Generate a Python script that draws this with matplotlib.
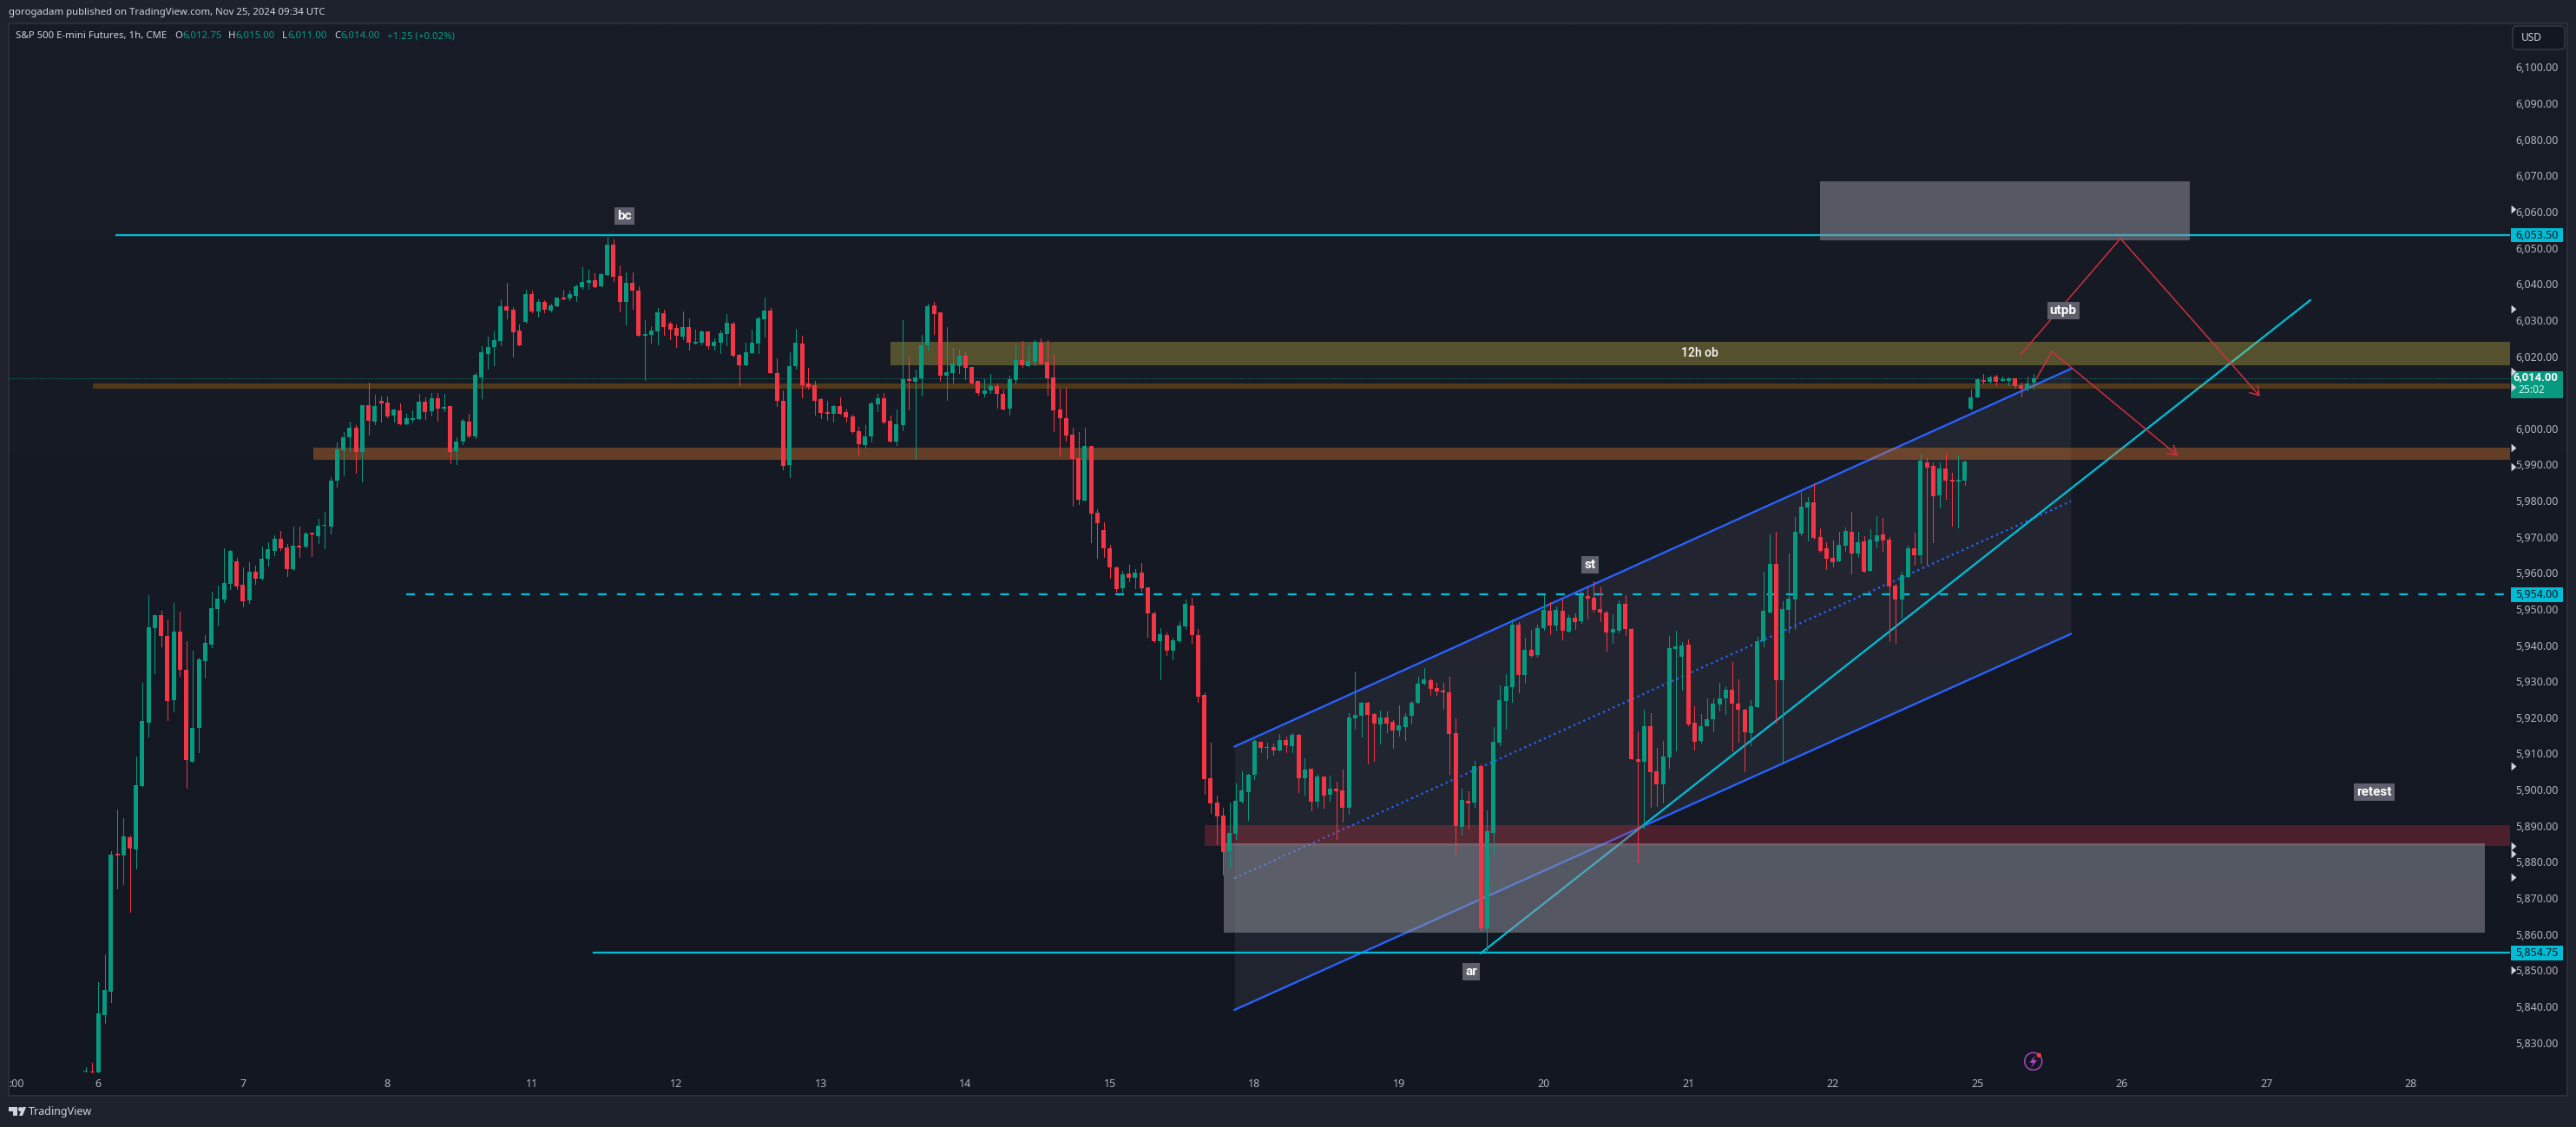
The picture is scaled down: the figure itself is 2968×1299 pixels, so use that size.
import numpy as np
import matplotlib
matplotlib.use("Agg")
import matplotlib.pyplot as plt
from matplotlib.patches import Rectangle, Circle, Polygon, FancyBboxPatch

plt.rcParams['font.family'] = ['Noto Sans', 'DejaVu Sans']

W, H = 2968, 1299

# 1h candles, first one sits two bars before the "6" label
opens = [
    5822, 5822, 5821.75, 5837.6, 5844, 5882.25, 5881.75, 5886.8, 5883.45, 5901,
    5918.5, 5944.7, 5948.3, 5942.55, 5924.75, 5943.75, 5933.2, 5907.7, 5917.1, 5935.5,
    5940.1, 5950, 5952.65, 5956.95, 5963.2, 5956.7, 5952.4, 5960.3, 5958.4, 5963.9,
    5966.1, 5969.45, 5967, 5961, 5967.5, 5967.3, 5971.1, 5970.15, 5973, 5972.8,
    5985.55, 5993.95, 5997.55, 6000.2, 5993.5, 6006.4, 6001.9, 6007.6, 6007.15, 6003.55,
    6005, 6001.15, 6002.35, 6002.6, 6007.4, 6004.75, 6008.35, 6005.5, 6006.2, 5993.7,
    5996.35, 6001.9, 5997.8, 6014.1, 6020.6, 6022.55, 6024.2, 6033.8, 6032.85, 6027.1,
    6029.5, 6037.2, 6032.4, 6035, 6032.6, 6033.8, 6036.2, 6036, 6036.7, 6039.1,
    6040.3, 6041, 6039.35, 6042.45, 6050.9, 6042.25, 6035, 6040.3, 6038.15, 6025.66,
    6025.9, 6026.85, 6031.9, 6029.05, 6027.8, 6025.4, 6028.05, 6023.6, 6023.7, 6026.85,
    6022.8, 6023.7, 6026.1, 6029.05, 6020.3, 6017.5, 6020.9, 6023.45, 6030.25, 6032.65,
    6015.35, 6007.65, 5989.9, 6017.3, 6023.45, 6012.45, 6011.95, 6008.1, 6004.5, 6004.05,
    6006.15, 6004.5, 6003.3, 5999.3, 5995.3, 5997.8, 6006.65, 6008.4, 6002.1, 5996.35,
    6000.95, 6013.6, 6012.9, 6013.8, 6023, 6034, 6032.2, 6014.65, 6015.35, 6017.3,
    6020.15, 6017, 6013.15, 6009.6, 6010.5, 6011.7, 6009.6, 6005.45, 6013.45, 6018.95,
    6017.3, 6018.5, 6023.7, 6018.5, 6014.05, 6005.25, 6002.85, 5998.25, 5991.75, 5980,
    5995.15, 5976.55, 5971.9, 5966.85, 5961.5, 5955.7, 5959.85, 5958.65, 5960.1, 5956,
    5948.8, 5941.1, 5942.75, 5938.4, 5941.1, 5945.15, 5950.95, 5942.75, 5926.2, 5903.15,
    5896.45, 5892.85, 5883, 5887.75, 5896.7, 5899.3, 5904.1, 5913.25, 5911.55, 5911.8,
    5910.85, 5913.7, 5912.05, 5915.15, 5903.15, 5905.8, 5896.7, 5903.6, 5898.6, 5900.3,
    5899.8, 5895, 5919.75, 5920.45, 5924.05, 5920.95, 5918.05, 5920, 5918.75, 5916.35,
    5917.3, 5920.45, 5924.05, 5929.35, 5930.3, 5928.15, 5927.4, 5926.95, 5915.65, 5889.7,
    5896.9, 5896.45, 5906.5, 5861.6, 5888, 5913, 5924.55, 5928.4, 5945.65, 5931.75,
    5938.7, 5937.25, 5944.7, 5949.5, 5945.45, 5949.5, 5943.75, 5947.6, 5946.6, 5953.6,
    5953.1, 5950, 5949, 5943.5, 5944, 5951.45, 5944.45, 5908.45, 5907.7, 5917.55,
    5905.05, 5901.45, 5908.9, 5939, 5936.8, 5940.15, 5918.5, 5913.5, 5917.55, 5919.5,
    5923.6, 5925.25, 5927.65, 5923.8, 5922.1, 5915.65, 5922.85, 5941.1, 5949, 5962.5,
    5930.3, 5949.75, 5952.65, 5970.9, 5978.1, 5979.55, 5969.95, 5966.8, 5964.15, 5963.2,
    5967.5, 5971.35, 5965.35, 5968.75, 5960.55, 5968.75, 5970.65, 5969.2, 5956.5, 5952.65,
    5958.85, 5966.8, 5964.9, 5990.6, 5989.6, 5981.45, 5988.9, 5985.8, 5985.3, 5985.55,
    6005.5, 6008.6, 6013.4, 6012.9, 6014.35, 6013.15, 6013.15, 6013.9, 6011.95, 6011, 6012.75,
]
highs = [
    5823.2, 5824.4, 5846.7, 5854.4, 5883, 5894.5, 5892.1, 5887.3, 5909.15, 5929.55,
    5953.85, 5948.3, 5949.5, 5947.1, 5951.65, 5949.25, 5941.1, 5938.5, 5936.5, 5942.8,
    5954.8, 5956.5, 5966.8, 5966.3, 5964.1, 5961.5, 5962.9, 5962, 5967.3, 5968.5,
    5970.4, 5971.6, 5968, 5972.8, 5972.8, 5971.3, 5971.1, 5974.95, 5976.9, 5986.5,
    5996.1, 5999, 6001.85, 6000.9, 6006.4, 6012.7, 6009.3, 6008.8, 6008.8, 6005.25,
    6006.9, 6004, 6005, 6009.55, 6008.6, 6009.8, 6009.8, 6009.55, 6006.2, 5997.55,
    6002.6, 6004, 6015.3, 6022.8, 6025.4, 6026.85, 6035.75, 6040.3, 6033.55, 6028.8,
    6038.4, 6038.15, 6035.75, 6035.5, 6034.55, 6036.2, 6038.4, 6038.15, 6039.85, 6044.65,
    6043.9, 6042.95, 6042.95, 6053.05, 6052.3, 6045.1, 6043.2, 6043.2, 6039.35, 6030,
    6028.2, 6033.3, 6032.85, 6029.6, 6028.8, 6032.4, 6030.45, 6027.3, 6027.1, 6026.85,
    6025, 6027.1, 6031.6, 6029.5, 6020.7, 6023.7, 6027.3, 6030.9, 6036.2, 6033.4,
    6019.4, 6010.5, 6021.05, 6027.6, 6025.65, 6016.75, 6013.15, 6008.4, 6007.55, 6006.45,
    6008.55, 6005.25, 6003.8, 6000.5, 6000.9, 6007.35, 6009.6, 6009.75, 6003.6, 6005.25,
    6030, 6019.95, 6016.3, 6025.95, 6034.5, 6035, 6032.2, 6028, 6022.25, 6021.8,
    6021.05, 6017, 6013.15, 6013.6, 6015.1, 6012.45, 6010.75, 6014.65, 6023, 6024.2,
    6023, 6024.5, 6024.9, 6024.45, 6020.3, 6011.05, 6011.15, 6000.2, 5999, 6000.2,
    5995.15, 5977.6, 5974, 5967.75, 5961.8, 5960.6, 5962.25, 5961.05, 5962.7, 5956,
    5949.35, 5944.65, 5943.5, 5942.1, 5946.6, 5952.7, 5953.15, 5944.5, 5926.95, 5913,
    5898.35, 5895, 5896.45, 5901.7, 5905.1, 5904.35, 5914, 5913.25, 5913, 5912.75,
    5915.4, 5914.7, 5915.65, 5915.4, 5908.7, 5905.8, 5904.35, 5903.6, 5903.85, 5902.2,
    5905.55, 5921.2, 5932.7, 5924.35, 5924.3, 5921.2, 5922, 5921.65, 5919.25, 5923.3,
    5921.2, 5924.5, 5931.25, 5933.65, 5930.8, 5929.55, 5929.55, 5931.25, 5919.75, 5900.3,
    5899.6, 5908, 5907, 5894.3, 5917.3, 5928.85, 5932, 5947.1, 5946.4, 5942.05,
    5944.25, 5945.65, 5953.85, 5951.9, 5950.7, 5952.6, 5948.3, 5948.8, 5954.8, 5956,
    5957.7, 5956.25, 5949.5, 5948.55, 5952.4, 5953.85, 5944.7, 5916.1, 5922.1, 5921.2,
    5911.55, 5913.5, 5942.55, 5944, 5940.85, 5941.6, 5923.1, 5920.9, 5925.25, 5925.25,
    5929.55, 5928.6, 5935.35, 5930.45, 5922.35, 5924.8, 5942.3, 5960.3, 5970.65, 5971.35,
    5952.15, 5965.35, 5975.45, 5982.5, 5981, 5984.8, 5972.3, 5968.5, 5969, 5971.35,
    5972.55, 5976.9, 5971.35, 5970.15, 5972.1, 5975.7, 5975.2, 5969.9, 5957, 5960.3,
    5967.5, 5971.1, 5993, 5991.8, 5990.6, 5990.6, 5993.2, 5987.7, 5992.5, 5991.05,
    6010.75, 6013.65, 6015.1, 6014.6, 6014.85, 6014.35, 6014.1, 6013.9, 6012.7, 6014.35, 6015,
]
lows = [
    5822, 5821.75, 5821.75, 5835.4, 5841.2, 5872.65, 5873.85, 5866.15, 5878.15, 5901,
    5914.7, 5932.2, 5939.65, 5919.25, 5921.65, 5931.5, 5900.5, 5907.7, 5910.35, 5931,
    5939.4, 5945.4, 5951.9, 5955.5, 5955.5, 5950.7, 5951.65, 5956.95, 5958.1, 5962,
    5964.9, 5966.3, 5959.1, 5960.8, 5964.4, 5967, 5964.65, 5968.25, 5966.8, 5970.9,
    5983.85, 5987, 5993.7, 5987.7, 5985.3, 5998.2, 6001.1, 6001.9, 6003.1, 6001.9,
    6001.15, 6001.15, 6001.9, 6002.6, 6002.6, 6003.55, 6002.1, 6004.75, 5990.35, 5990.1,
    5995.6, 5997.55, 5997.3, 6008.35, 6016.5, 6017.5, 6023, 6030.45, 6019.9, 6023,
    6029.3, 6032.15, 6030.95, 6032.15, 6032.4, 6033.8, 6035.75, 6035.5, 6035.25, 6038.65,
    6038.65, 6039.1, 6039.35, 6042.45, 6040.8, 6032.4, 6028.8, 6033.1, 6025.65, 6013.5,
    6023.8, 6023.3, 6025.9, 6024.75, 6022.6, 6024.75, 6021.8, 6023.45, 6023.15, 6022.05,
    6021.8, 6020.9, 6023, 6019.85, 6011.95, 6017.5, 6020.9, 6020.9, 6025.4, 6015.35,
    6006.2, 5988.7, 5986.6, 6016.45, 6008.65, 6011.05, 6003.8, 6002.85, 6002.4, 6001.85,
    6004.05, 6001.85, 5998.7, 5992.75, 5994.7, 5996.35, 6004.8, 6001.4, 5996.35, 5995.4,
    5999.55, 6005.25, 5991.65, 6009.1, 6021.8, 6026.1, 6013.15, 6007.9, 6012.7, 6015.35,
    6013.6, 6012.45, 6009.3, 6008.85, 6009.75, 6005.7, 6005.25, 6003.8, 6012.45, 6017,
    6017.3, 6017.5, 6017.65, 6009.3, 5999.3, 5992.6, 5996.6, 5978.6, 5979.05, 5980,
    5968.5, 5964.2, 5964.45, 5958.65, 5954.8, 5954.5, 5957.65, 5955.7, 5955, 5942.3,
    5940.85, 5930.6, 5937.2, 5936.05, 5940.85, 5944.5, 5940.65, 5924.3, 5898.85, 5893.55,
    5884.8, 5876.5, 5878.4, 5886.35, 5896.45, 5891.65, 5902.9, 5910.35, 5908.7, 5909.65,
    5910.85, 5910.35, 5910.35, 5899.3, 5898.6, 5894.3, 5895.2, 5895, 5896.9, 5886.35,
    5891.15, 5893.3, 5916.85, 5914.7, 5907.25, 5907.95, 5912.75, 5915.9, 5911.55, 5914.95,
    5913.7, 5918.3, 5924.05, 5929.1, 5926.2, 5926.2, 5922.6, 5904.35, 5881.8, 5887.55,
    5889.25, 5895.2, 5860.9, 5854.9, 5882, 5912.3, 5916.85, 5924.3, 5926.95, 5929.55,
    5936.8, 5936.8, 5944.25, 5943, 5944.25, 5941.6, 5943.75, 5944.45, 5946.15, 5947.35,
    5949.3, 5946.65, 5938.5, 5940.6, 5943.5, 5942.8, 5908.45, 5879.85, 5889.2, 5895.2,
    5895.45, 5896.45, 5906, 5910.85, 5927.65, 5917.8, 5911.1, 5913, 5917.55, 5916.1,
    5921.9, 5920.9, 5910.6, 5913.25, 5905.1, 5912.3, 5922.85, 5939.65, 5949, 5918.55,
    5907.2, 5943.5, 5944.45, 5970.4, 5969, 5969.45, 5965.85, 5961, 5961.75, 5963.2,
    5966.1, 5959.85, 5964.4, 5960.4, 5960.55, 5967.05, 5966.1, 5941.1, 5940.6, 5947.6,
    5958.85, 5962.25, 5962.7, 5962.5, 5968.5, 5978.1, 5980.5, 5973.05, 5972.55, 5984.35,
    6005.25, 6008.6, 6012.45, 6012.7, 6012, 6013.15, 6012, 6011.25, 6008.85, 6010.5, 6011,
]
closes = [
    5822.3, 5821.75, 5838, 5844.5, 5882, 5881.75, 5887, 5883.7, 5901.2, 5919,
    5944.95, 5948.3, 5942.55, 5924.5, 5943.75, 5933.2, 5908.2, 5917.1, 5936, 5940.6,
    5950.2, 5952.85, 5957.2, 5966.1, 5956.2, 5952.15, 5960.3, 5958.4, 5963.9, 5966.55,
    5969.45, 5966.8, 5961, 5967.5, 5967, 5970.9, 5970.65, 5973, 5973.2, 5985.55,
    5994.2, 5997.55, 6000.2, 5993.5, 6006.4, 6002.1, 6006.2, 6006.9, 6003.3, 6005.25,
    6001.15, 6002.85, 6002.85, 6007.4, 6004.5, 6008.35, 6005.5, 6006, 5993.45, 5996.35,
    6002.1, 5997.8, 6014.85, 6021.1, 6022.55, 6024.45, 6033.8, 6032.6, 6026.6, 6023,
    6037.2, 6032.4, 6035, 6032.85, 6034.05, 6036.2, 6035.75, 6037.2, 6039.35, 6040.55,
    6041, 6039.1, 6042.7, 6050.9, 6042, 6035, 6040.3, 6038.15, 6025.65, 6026.1,
    6027.1, 6032.2, 6028.05, 6027.3, 6025.65, 6028.05, 6023.7, 6024, 6026.85, 6022.8,
    6024, 6026.4, 6029.25, 6020.15, 6017.5, 6021.05, 6023.7, 6030.45, 6032.65, 6015.35,
    6007.65, 5989.6, 6017.3, 6023.7, 6011.95, 6011.6, 6007.65, 6004.25, 6004.05, 6006.15,
    6004.05, 6003.05, 5999, 5995.6, 5997.8, 6006.9, 6008.4, 6001.55, 5996.35, 6001.1,
    6013.6, 6013.15, 6014.05, 6023, 6033.85, 6031.65, 6014.65, 6015.55, 6017.95, 6020.15,
    6016.75, 6012.45, 6009.75, 6010.5, 6011.7, 6009.6, 6005.25, 6013.6, 6018.95, 6017.5,
    6018.65, 6024, 6017.95, 6013.9, 6005, 6002.85, 5998.1, 5991.55, 5980.25, 5995.15,
    5976.4, 5973.8, 5966.85, 5961.5, 5955.55, 5959.55, 5958.65, 5960.1, 5955.7, 5948.8,
    5941.1, 5943, 5938.4, 5941.35, 5945.4, 5951.4, 5942.75, 5925.75, 5903, 5896.2,
    5892.6, 5882.7, 5888, 5896.9, 5899.8, 5904.1, 5913.5, 5911.55, 5911.8, 5910.85,
    5913.7, 5912.3, 5915.15, 5903.15, 5905.55, 5896.7, 5903.6, 5898.35, 5900.3, 5899.55,
    5895, 5920, 5920.7, 5924.05, 5920.7, 5918.3, 5920, 5918.3, 5916.35, 5917.8,
    5920.2, 5924.05, 5929.35, 5930.55, 5927.9, 5927.2, 5926.95, 5915.4, 5889.95, 5897.15,
    5896.2, 5906.5, 5861.6, 5888.5, 5913.25, 5924.75, 5928.6, 5945.65, 5931.75, 5938.7,
    5937, 5944.7, 5949.75, 5945.45, 5949.75, 5944, 5947.6, 5946.4, 5953.85, 5952.9,
    5949.75, 5949, 5943.5, 5944.45, 5951.45, 5944.45, 5908.45, 5907.7, 5917.55, 5904.85,
    5901.45, 5909.15, 5939.2, 5939.65, 5939.9, 5918, 5913.25, 5917.55, 5919.5, 5923.8,
    5925.25, 5927.65, 5923.8, 5922.1, 5915.9, 5923.1, 5941.1, 5949.5, 5962.5, 5930.3,
    5950, 5952.85, 5971.35, 5978.35, 5979.55, 5969.7, 5966.1, 5963.9, 5962.95, 5967.75,
    5971.6, 5965.35, 5968.5, 5960.4, 5969.2, 5970.4, 5969, 5956.25, 5952.65, 5959.35,
    5966.8, 5964.9, 5991.05, 5989.15, 5981.2, 5988.9, 5985.55, 5985.3, 5985.8, 5990.8,
    6008.6, 6013.65, 6012.9, 6014.1, 6012.9, 6013.65, 6013.9, 6011.7, 6011, 6012.45, 6014,
]

day_labels = ['6', '7', '8', '11', '12', '13', '14', '15', '18', '19', '20', '21', '22', '25', '26', '27', '28']
bars_per_day = 23
price_ticks = np.arange(5830, 6101, 10)
hidden_ticks = [6010]

# levels: price, first bar
levels = [6053.5, 5854.75]
level_starts = [2.9, 78.8]
mid_level = 5954.0
mid_start = 49
last_price = 6014.0

# zones: first bar, last bar, low, high  (None = runs off to the axis)
brown_thin = (-0.9, None, 6011.0, 6012.4)
brown_thick = (34.2, None, 5991.3, 5994.7)
olive = (126.1, None, 6017.5, 6024.0)
maroon = (176.1, None, 5884.4, 5890.2)
grey_top = (274.0, 332.8, 6052.1, 6068.4)
grey_low = (179.1, 379.8, 5860.4, 5885.1)

channel_bars = [180.8, 313.9]
channel_top = [5911.9, 6016.5]
channel_bottom = [5839.0, 5943.1]
trend_bars = [220.0, 352.0]
trend_prices = [5854.7, 6035.5]

arrow1_bars = [305.9, 321.8, 344.0]
arrow1_prices = [6020.4, 6052.6, 6008.9]
arrow2_bars = [308.4, 310.9, 330.9]
arrow2_prices = [6013.7, 6021.3, 5992.5]

note_text = ['bc', 'st', 'ar', 'retest', 'utpb']
note_bars = [83.7, 237.4, 218.5, 362.2, 312.7]
note_prices = [6058.9, 5962.2, 5849.5, 5899.2, 6032.7]

marker_prices = [6060.7, 6033, 6015.8, 6011.5, 5994.7, 5989.3, 5906.5, 5884.4, 5882.2, 5875.7, 5850]

GREEN = '#089981'
RED = '#f23645'
CYAN = '#00bcd4'
BLUE = '#2962ff'
PX = 0.72  # one pixel in points at dpi 100
LINE = 2.3 * PX

# pixel calibration of the chart
x_of_bar0, px_per_bar = 113.3, 7.24
y_of_6100, px_per_pt = 77.5, 4.163
pane_l, pane_r, pane_t, pane_b, frame_r = 10, 2892, 27, 1263, 2958

fig = plt.figure(figsize=(W / 100, H / 100), dpi=100, facecolor='#1e222d')


def axes_px(l, r, t, b, **kw):
    return fig.add_axes([l / W, 1 - b / H, (r - l) / W, (b - t) / H], **kw)


# page furniture, drawn in plain pixel coordinates
bg = axes_px(0, W, 0, H, zorder=0)
grad = np.linspace(0, 1, 256)[:, None, None] * (np.array([0x13, 0x17, 0x22]) - np.array([0x18, 0x1c, 0x27])) + np.array([0x18, 0x1c, 0x27])
bg.imshow(grad / 255, extent=(pane_l, frame_r, pane_b, pane_t), aspect='auto', interpolation='bilinear')
bg.set_xlim(0, W)
bg.set_ylim(H, 0)
bg.axis('off')
bg.add_patch(Rectangle((pane_l, pane_t), frame_r - pane_l, pane_b - pane_t, fc='none', ec='#2a2e39', lw=2 * PX))

TXT = '#d1d4dc'
bg.text(10, 14.5, 'gorogadam published on TradingView.com, Nov 25, 2024 09:34 UTC', color=TXT, fontsize=8.2, va='center')
legend_y = 41.5
bg.text(18, legend_y, 'S&P 500 E-mini Futures, 1h, CME', color=TXT, fontsize=8.2, va='center')
for x, s, c in [(201, 'O', TXT), (210, '6,012.75', GREEN), (263, 'H', TXT), (271, '6,015.00', GREEN),
                (325, 'L', TXT), (331, '6,011.00', GREEN), (385, 'C', TXT), (392, '6,014.00', GREEN),
                (446, '+1.25 (+0.02%)', GREEN)]:
    bg.text(x, legend_y, s, color=c, fontsize=8.2, va='center')

# TradingView logo + wordmark
bg.add_patch(Polygon([(10, 1276), (20, 1276), (20, 1286), (15, 1286), (15, 1281), (10, 1281)], fc=TXT, ec='none'))
bg.add_patch(Circle((23.5, 1278.5), 2.5, fc=TXT, ec='none'))
bg.add_patch(Polygon([(22, 1286), (26, 1276), (30, 1276), (26, 1286)], fc=TXT, ec='none'))
bg.text(33, 1281.5, 'TradingView', color=TXT, fontsize=9, va='center')
bg.text(19, 1249.5, ':00', color='#b2b5be', fontsize=9, va='center', ha='center')

# USD button
bg.add_patch(FancyBboxPatch((2898, 33), 54, 21, boxstyle='round,pad=3,rounding_size=5', fc='#131722', ec='#363a45', lw=1.5 * PX))
bg.text(2905, 43.5, 'USD', color=TXT, fontsize=8.6, va='center')

# lightning icon
bg.add_patch(Circle((2342.7, 1223.3), 10, fc='none', ec='#ab47bc', lw=1.5 * PX))
bg.add_patch(Polygon([(2345, 1216), (2338.5, 1225), (2342.5, 1225), (2340, 1231), (2347, 1222), (2343, 1222)], fc='#ab47bc', ec='none'))
bg.add_patch(Circle((2349.3, 1216.3), 2.7, fc=RED, ec='none'))

# main chart
ax = axes_px(pane_l, pane_r, pane_t, pane_b, zorder=1)
ax.patch.set_alpha(0)
xlim = ((pane_l - x_of_bar0) / px_per_bar, (pane_r - x_of_bar0) / px_per_bar)
ylim = (6100 - (pane_b - y_of_6100) / px_per_pt, 6100 - (pane_t - y_of_6100) / px_per_pt)
ax.set_xlim(*xlim)
ax.set_ylim(*ylim)
for s in ax.spines.values():
    s.set_visible(False)

ax.yaxis.tick_right()
ax.set_yticks(price_ticks)
ax.set_yticklabels(['' if p in hidden_ticks else f'{p:,.2f}' for p in price_ticks], color='#b2b5be', fontsize=9, ha='right')
ax.tick_params(axis='y', length=0, pad=40.2)
ax.set_xticks(np.arange(len(day_labels)) * bars_per_day)
ax.set_xticklabels(day_labels, color='#b2b5be', fontsize=9)
ax.tick_params(axis='x', length=0, pad=-14.4)


def zone(z, color, alpha):
    x0, x1, lo, hi = z
    if x1 is None:
        x1 = xlim[1]
    ax.add_patch(Rectangle((x0, lo), x1 - x0, hi - lo, fc=color, ec='none', alpha=alpha, zorder=2.5))


# channel first, zones lie over it
ax.fill_between(channel_bars, channel_bottom, channel_top, color='#9598a1', alpha=0.1, lw=0, zorder=1)
ax.plot(channel_bars, channel_top, color=BLUE, lw=LINE, zorder=2)
ax.plot(channel_bars, channel_bottom, color=BLUE, lw=LINE, zorder=2)
channel_mid = (np.array(channel_top) + np.array(channel_bottom)) / 2
ax.plot(channel_bars, channel_mid, color=BLUE, lw=LINE, ls=(0, (1, 1.7)), zorder=2)

for p, x0 in zip(levels, level_starts):
    ax.plot([x0, xlim[1]], [p, p], color=CYAN, lw=LINE, zorder=2)
ax.plot([mid_start, xlim[1]], [mid_level, mid_level], color=CYAN, lw=LINE, ls=(0, (4.4, 5.2)), zorder=2)
ax.plot(xlim, [last_price, last_price], color=GREEN, lw=PX, ls=(0, (1, 2)), zorder=2)
ax.plot(trend_bars, trend_prices, color=CYAN, lw=LINE, zorder=2)

zone(brown_thin, '#ff9800', 0.25)
zone(brown_thick, '#f58228', 0.35)
zone(olive, '#cdba3f', 0.35)
zone(maroon, RED, 0.25)
zone(grey_top, '#9598a1', 0.5)
zone(grey_low, '#9598a1', 0.5)

# candles
o, h, l, c = map(np.array, (opens, highs, lows, closes))
bars = np.arange(len(o)) - 2
cols = np.where(c >= o, GREEN, RED)
ax.vlines(bars, l, h, colors=cols, lw=PX, zorder=3, antialiased=False)
ax.bar(bars, np.maximum(np.abs(c - o), 0.3), bottom=np.minimum(o, c), width=0.69, color=cols, lw=0, zorder=3.1, antialiased=False)

# red projections
for xs, ps in [(arrow1_bars, arrow1_prices), (arrow2_bars, arrow2_prices)]:
    ax.plot(xs[:2], ps[:2], color='#d1303f', lw=1.5 * PX, zorder=3.5)
    ax.annotate('', xy=(xs[2], ps[2]), xytext=(xs[1], ps[1]), zorder=3.5,
                arrowprops=dict(arrowstyle='->,head_width=0.45,head_length=0.7', color='#d1303f', lw=1.5 * PX, shrinkA=0, shrinkB=0, mutation_scale=10))

for s, x, p in zip(note_text, note_bars, note_prices):
    ax.text(x, p, s, color='white', fontsize=11, family='Roboto', fontweight='bold', ha='center', va='center', zorder=4,
            bbox=dict(boxstyle='square,pad=0.2', fc='#5d606b', ec='none'))
ax.text(254.9, 6020.9, '12h ob', color='white', fontsize=10, family='Roboto', fontweight='medium', ha='center', va='center', zorder=4)

# price scale tags
pax = axes_px(pane_r, frame_r, pane_t, pane_b, zorder=2)
pax.set_xlim(pane_r, frame_r)
pax.set_ylim(*ylim)
pax.patch.set_alpha(0)
pax.axis('off')
for p, s in [(6053.5, '6,053.50'), (5954.0, '5,954.00'), (5854.75, '5,854.75')]:
    pax.add_patch(Rectangle((2893, p - 2), 60, 4, fc=CYAN, ec='none'))
    pax.text(2947.7, p, s, color='#131722', fontsize=9, ha='right', va='center')
pax.add_patch(Rectangle((2893, 6008.4), 60, 7.4, fc=GREEN, ec='none'))
pax.text(2947.7, 6014.1, '6,014.00', color='white', fontsize=9.4, family='Roboto', fontweight='bold', ha='right', va='center')
pax.text(2901, 6010.7, '25:02', color='#d8efe9', fontsize=8.6, ha='left', va='center')
pax.plot([2896] * len(marker_prices), marker_prices, ls='none', color=TXT, ms=7,
         marker=[(-0.6, -1), (0.6, 0), (-0.6, 1)], mew=0, clip_on=False)

fig.savefig('out.png', dpi=100, facecolor=fig.get_facecolor())
